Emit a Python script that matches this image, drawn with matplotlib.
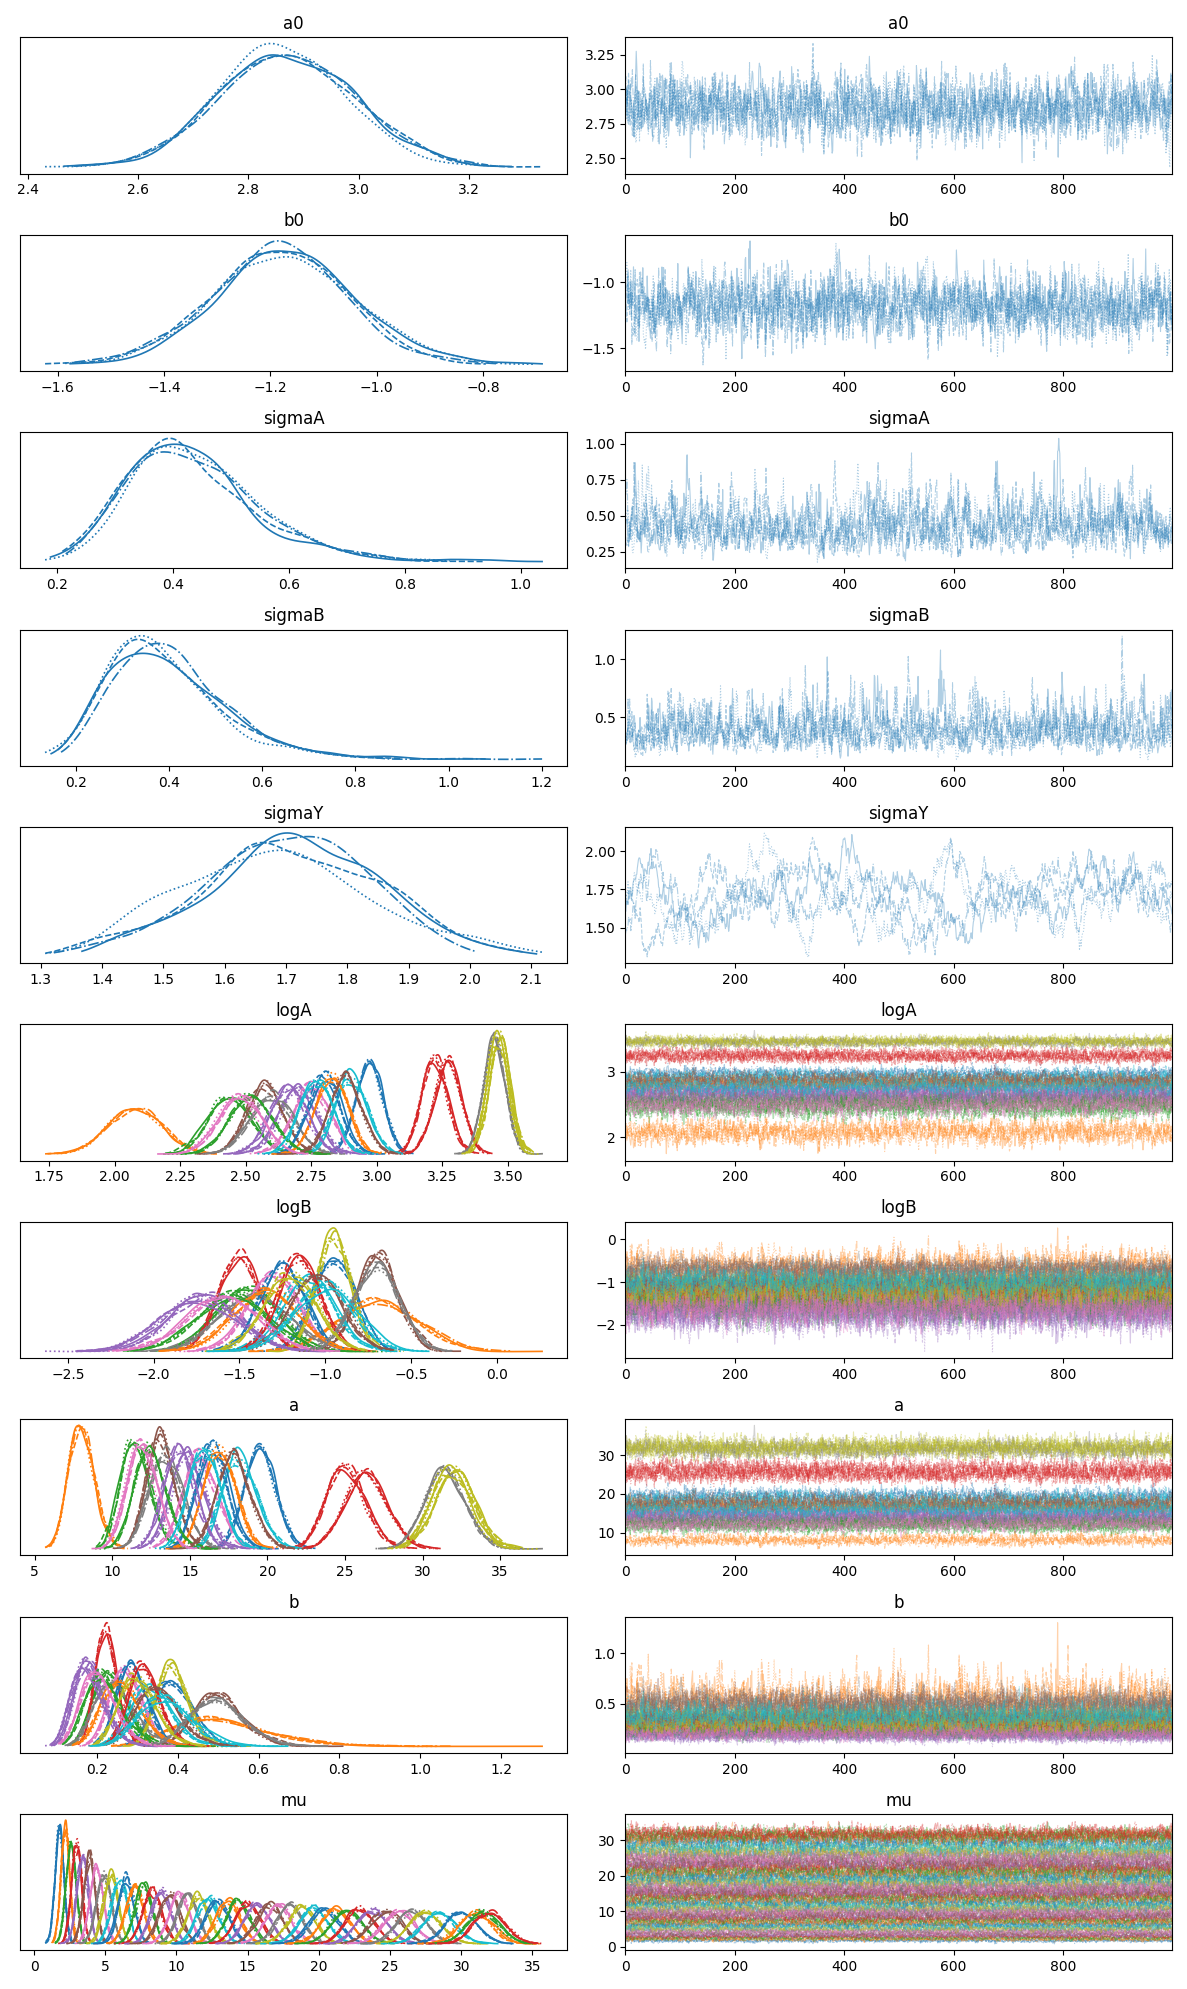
import numpy as np
import matplotlib.pyplot as plt

# posterior summaries (centre, spread per component)
logA_mean = [2.97, 2.08, 2.44, 3.22, 2.70, 2.57, 2.75, 2.60, 3.47, 2.90,
             2.80, 2.83, 2.52, 3.27, 2.66, 2.88, 2.48, 3.45, 3.46, 2.77]
logA_sd = [0.05, 0.10, 0.08, 0.05, 0.07, 0.07, 0.07, 0.08, 0.04, 0.06,
           0.06, 0.06, 0.08, 0.05, 0.07, 0.06, 0.08, 0.04, 0.04, 0.06]
logB_mean = [-0.95, -0.68, -1.45, -1.50, -1.70, -0.70, -1.30, -1.40, -0.95, -1.10,
             -1.25, -1.35, -1.55, -1.15, -1.75, -1.05, -1.60, -0.70, -1.20, -1.00]
logB_sd = [0.12, 0.22, 0.18, 0.12, 0.20, 0.12, 0.15, 0.20, 0.10, 0.15,
           0.13, 0.18, 0.20, 0.12, 0.22, 0.15, 0.20, 0.13, 0.15, 0.18]
mu_mean = [1.8, 2.2, 2.6, 3.0, 3.4, 3.9, 4.4, 4.9, 5.4, 6.0, 6.5, 7.1, 7.7, 8.3,
           8.9, 9.5, 10.2, 10.8, 11.5, 12.2, 12.9, 13.6, 14.3, 15.0, 15.7, 16.5,
           17.2, 18.0, 18.8, 19.6, 20.4, 21.2, 22.0, 22.9, 23.8, 24.7, 25.6,
           26.5, 27.5, 28.5, 30.0, 31.0, 31.5, 32.0]
mu_sd = [0.3, 0.3, 0.35, 0.35, 0.4, 0.4, 0.45, 0.5, 0.5, 0.55, 0.55, 0.6, 0.6,
         0.65, 0.65, 0.7, 0.7, 0.7, 0.75, 0.75, 0.8, 0.8, 0.8, 0.85, 0.85, 0.9,
         0.9, 0.9, 0.95, 0.95, 1.0, 1.0, 1.0, 1.0, 1.0, 1.05, 1.05, 1.05, 1.1,
         1.1, 1.1, 1.1, 1.1, 1.1]

n_chain, n_draw = 4, 1000
rng = np.random.default_rng(3)  # stand-in draws: actual MCMC samples are not readable


def chains(mean, sd, phi=0.5, n=1):
    out = np.empty((n, n_chain, n_draw))
    e = rng.standard_normal((n, n_chain, n_draw))
    out[..., 0] = e[..., 0]
    for t in range(1, n_draw):
        out[..., t] = phi * out[..., t - 1] + np.sqrt(1 - phi**2) * e[..., t]
    return np.asarray(mean).reshape(-1, 1, 1) + np.asarray(sd).reshape(-1, 1, 1) * out


logA = chains(logA_mean, logA_sd, n=len(logA_mean))
logB = chains(logB_mean, logB_sd, n=len(logB_mean))
posterior = {
    "a0": chains([2.87], [0.12]),
    "b0": chains([-1.18], [0.13]),
    "sigmaA": np.exp(chains([np.log(0.42)], [0.25], phi=0.7)),
    "sigmaB": np.exp(chains([np.log(0.38)], [0.30], phi=0.7)),
    "sigmaY": chains([1.70], [0.14], phi=0.97),
    "logA": logA,
    "logB": logB,
    "a": np.exp(logA),
    "b": np.exp(logB),
    "mu": chains(mu_mean, mu_sd, n=len(mu_mean)),
}

styles = ["-", "--", ":", "-."]


def kde(x):
    bw = 1.06 * x.std() * len(x) ** (-0.2)
    grid = np.linspace(x.min(), x.max(), 200)
    d = np.exp(-0.5 * ((grid[:, None] - x[None, :]) / bw) ** 2).sum(1)
    return grid, d / (len(x) * bw * np.sqrt(2 * np.pi))


fig, axes = plt.subplots(len(posterior), 2, figsize=(11.87, 19.89), dpi=100)
for row, (name, s) in enumerate(posterior.items()):
    axl, axr = axes[row]
    for k in range(s.shape[0]):
        col = f"C{k % 10}"
        for c in range(n_chain):
            g, d = kde(s[k, c])
            axl.plot(g, d, color=col, ls=styles[c], lw=1.2)
            axr.plot(np.arange(n_draw), s[k, c], color=col, ls=styles[c],
                     lw=0.8, alpha=0.35)
    axl.set_title(name)
    axr.set_title(name)
    axl.set_yticks([])
    axl.set_ylim(bottom=0 - axl.get_ylim()[1] * 0.05)
    axr.set_xlim(0, n_draw - 1)
    axr.set_xticks([0, 200, 400, 600, 800])

plt.tight_layout()
plt.savefig("out.png")
